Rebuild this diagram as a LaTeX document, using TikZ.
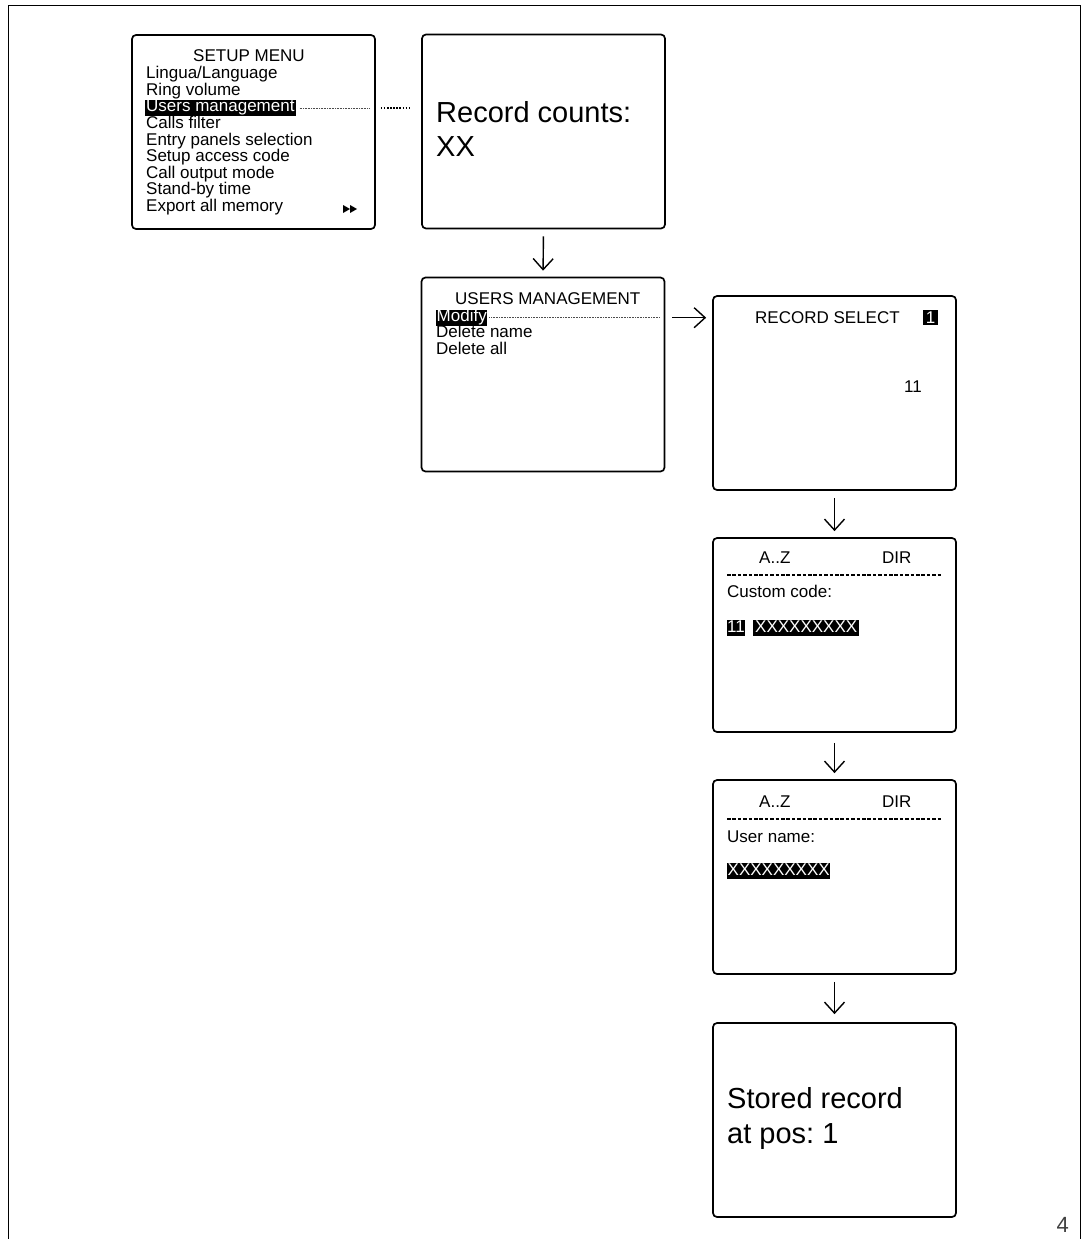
\documentclass[tikz,border=0pt]{standalone}
\usepackage{fontspec}
\setmainfont{Liberation Sans}
\usetikzlibrary{arrows.meta}
\frenchspacing

\begin{document}
\begin{tikzpicture}[x=1pt,y=-1pt,
  screen/.style={draw, line width=1.7pt, rounded corners=4pt,
    minimum width=243pt, minimum height=194pt, inner sep=0pt},
  txt/.style={anchor=base west, inner sep=0pt, font=\fontsize{17}{17}\selectfont},
  big/.style={anchor=base west, inner sep=0pt, font=\fontsize{29}{34}\selectfont},
  hl/.style={txt, fill=black, text=white, text height=12pt, text depth=4pt,
    inner ysep=0pt, inner xsep=1pt},
  arr/.style={-{Straight Barb[length=11pt,width=20pt]}, line width=1.4pt,
    shorten <=7pt, shorten >=6pt},
  dotthin/.style={line width=0.6pt, black!70, dash pattern=on 0.8pt off 0.8pt},
  dotthick/.style={line width=1.6pt, dash pattern=on 1.5pt off 1.6pt},
  hyph/.style={line width=1.1pt, dash pattern=on 3.6pt off 1.8pt}]

\useasboundingbox (0,0) rectangle (1089,1239);

% page frame, open at the bottom
\draw[line width=1pt] (8,1250) -- (8,6) -- (1080,6) -- (1080,1250);

% screens
\node[screen] (setup)  at (253.5,132) {};
\node[screen] (rec)    at (543.5,131.5) {};
\node[screen] (users)  at (543,374.5) {};
\node[screen] (recsel) at (834.5,393) {};
\node[screen] (az1)    at (834.5,635) {};
\node[screen] (az2)    at (834.5,877) {};
\node[screen] (stored) at (834.5,1120) {};

% setup menu
\node[txt] (smt) at (193,62) {SETUP MENU};
\node[txt] (sm1) at (146,78.6) {Lingua/Language};
\node[txt] (sm2) at (146,95.2) {Ring volume};
\node[hl]  (um)  at (145,111.8) {Users management};
\node[txt] (sm4) at (146,128.4) {Calls filter};
\node[txt] (sm5) at (146,145) {Entry panels selection};
\node[txt] (sm6) at (146,161.6) {Setup access code};
\node[txt] (sm7) at (146,178.2) {Call output mode};
\node[txt] (sm8) at (146,194.8) {Stand-by time};
\node[txt] (sm9) at (146,211.4) {Export all memory};
\fill (343,205) -- (350,209) -- (343,213) -- cycle;
\fill (350,205) -- (357,209) -- (350,213) -- cycle;

% record count
\node[big] (rc1) at (436,122) {Record counts:};
\node[big] (rc2) at (436,156) {XX};

% users management
\node[txt] (umt) at (455,304) {USERS MANAGEMENT};
\node[hl, inner xsep=0.5pt] (mod) at (436,321.7) {Modify};
\node[txt] (dn)  at (436,337.7) {Delete name};
\node[txt] (da)  at (436,354) {Delete all};

% record select
\node[txt] (rst) at (755,323) {RECORD SELECT};
\node[hl, anchor=base west, minimum width=15pt, text height=13.5pt, text depth=1.5pt, inner xsep=0pt] (rsn) at (923,323) {1};
\node[txt] (rsv) at (904,392) {11};

% custom code
\node[txt] (az1a) at (759,563) {A..Z};
\node[txt] (az1d) at (882,563) {DIR};
\draw[hyph] (727,575) -- (942,575);
\node[txt] (cc)   at (727,597) {Custom code:};
\node[hl, inner xsep=0pt] (ccn) at (727,632) {11};
\node[hl, inner xsep=2pt] (ccx) at (753,632) {XXXXXXXXX};

% user name
\node[txt] (az2a) at (759,807) {A..Z};
\node[txt] (az2d) at (882,807) {DIR};
\draw[hyph] (727,819) -- (942,819);
\node[txt] (un)   at (727,842) {User name:};
\node[hl, inner xsep=0.5pt] (unx) at (727,875) {XXXXXXXXX};

% stored
\node[big] (st1) at (727,1108) {Stored record};
\node[big] (st2) at (727,1143) {at pos: 1};

% connectors
\draw[dotthin, shorten <=4pt, shorten >=7pt] (um.east) -- (setup.east |- um.east);
\draw[dotthick, shorten <=5pt, shorten >=10pt] (setup.east |- um.east) -- (rec.west |- um.east);
\draw[dotthin, shorten <=2pt, shorten >=6pt] (mod.east) -- (users.east |- mod.east);
\draw[arr] (rec.south) -- (users.north);
\draw[arr] (users.east |- mod.east) -- (recsel.west |- mod.east);
\draw[arr] (recsel.south) -- (az1.north);
\draw[arr, shorten <=10pt] (az1.south) -- (az2.north);
\draw[arr, shorten >=8pt] (az2.south) -- (stored.north);

% page number
\node[anchor=base east, inner sep=0pt, font=\fontsize{22}{22}\selectfont, text=black!75] (pg) at (1069,1232) {4};
\end{tikzpicture}
\end{document}
